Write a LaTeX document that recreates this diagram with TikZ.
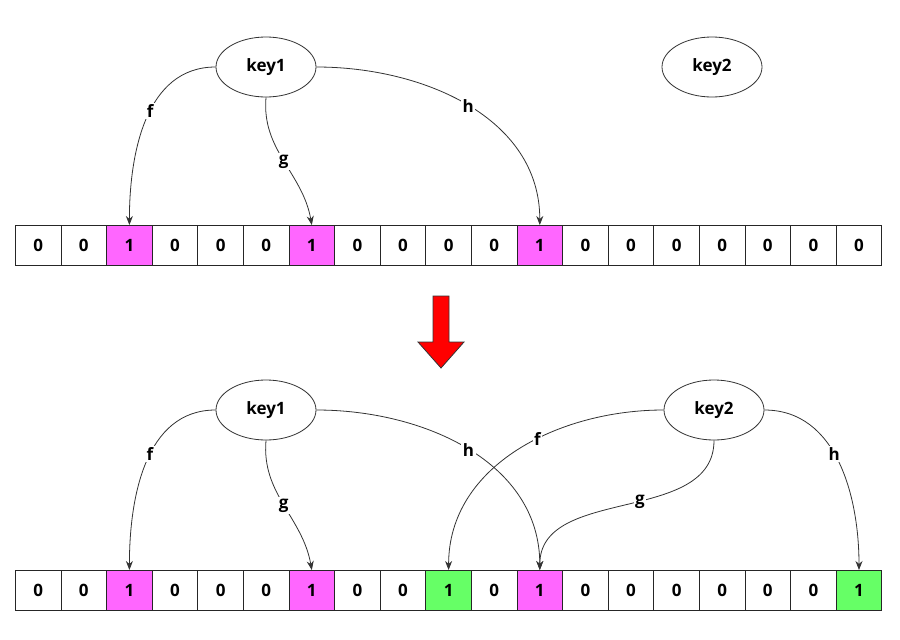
\documentclass[tikz,border=0pt]{standalone}
\usepackage{fontspec}
\setmainfont{Open Sans}
\usetikzlibrary{arrows.meta,shapes.geometric}
\definecolor{pk}{HTML}{FF66FF}
\definecolor{gr}{HTML}{66FF66}
\begin{document}
\begin{tikzpicture}[x=1pt,y=-1pt,
  cell/.style={draw=black!85,thick,minimum width=45.6pt,minimum height=40pt,inner sep=0pt,font=\bfseries\fontsize{17}{20}\selectfont,anchor=north west},
  key/.style={draw=black!80,thick,ellipse,minimum width=100pt,minimum height=60pt,font=\bfseries\fontsize{17}{20}\selectfont,fill=white},
  conn/.style={draw=black!80,thick,-{Stealth[length=9pt,width=7pt]}},
  lab/.style={fill=white,inner sep=1.5pt,font=\bfseries\fontsize{17}{20}\selectfont}]
\useasboundingbox (0,0) rectangle (900,640);
\foreach \i/\v/\c in {0/0/white,1/0/white,2/1/pk,3/0/white,4/0/white,5/0/white,6/1/pk,7/0/white,8/0/white,9/0/white,10/0/white,11/1/pk,12/0/white,13/0/white,14/0/white,15/0/white,16/0/white,17/0/white,18/0/white}
  \node[cell,fill=\c] (t\i) at ({15+\i*45.6},225) {\v};
\foreach \i/\v/\c in {0/0/white,1/0/white,2/1/pk,3/0/white,4/0/white,5/0/white,6/1/pk,7/0/white,8/0/white,9/1/gr,10/0/white,11/1/pk,12/0/white,13/0/white,14/0/white,15/0/white,16/0/white,17/0/white,18/1/gr}
  \node[cell,fill=\c] (b\i) at ({15+\i*45.6},570) {\v};
\node[key] (k1) at (266,67) {key1};
\node[key] (k2) at (712,67) {key2};
\node[key] (bk1) at (266,410) {key1};
\node[key] (bk2) at (714,410) {key2};
\draw[conn] (k1.west) to[out=180,in=90] node[lab,pos=0.45]{f} (t2.north);
\draw[conn] (k1.south) to[out=-95,in=100] node[lab,pos=0.5]{g} (t6.north);
\draw[conn] (k1.east) to[out=0,in=90] node[lab,pos=0.5]{h} (t11.north);
\draw[conn] (bk1.west) to[out=180,in=90] node[lab,pos=0.45]{f} (b2.north);
\draw[conn] (bk1.south) to[out=-95,in=100] node[lab,pos=0.5]{g} (b6.north);
\draw[conn] (bk1.east) to[out=0,in=90] node[lab,pos=0.5]{h} (b11.north);
\draw[conn] (bk2.west) to[out=180,in=90] node[lab,pos=0.42]{f} (b9.north);
\draw[conn] (bk2.south) to[out=-90,in=90] node[lab,pos=0.45]{g} (b11.north);
\draw[conn] (bk2.east) to[out=0,in=90] node[lab,pos=0.45]{h} (b18.north);
\fill[red,draw=black!80,thick] (433,296) -- (449,296) -- (449,342) -- (464,342) -- (441,368) -- (418,342) -- (433,342) -- cycle;
\end{tikzpicture}
\end{document}
